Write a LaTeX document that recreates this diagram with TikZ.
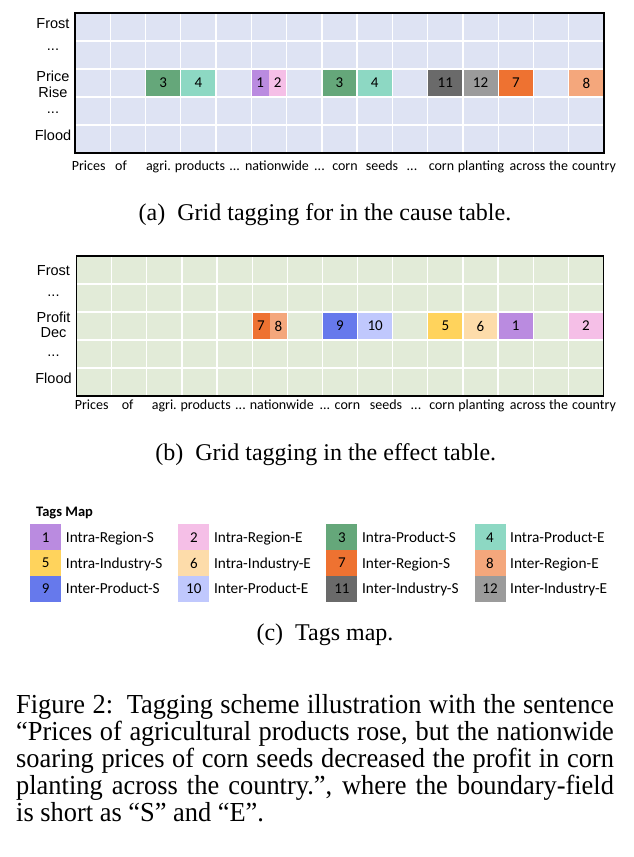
\documentclass[tikz,border=0pt]{standalone}
\usepackage{fontspec}
\setmainfont{Liberation Serif}
\newfontfamily\calibri{Carlito}
\newfontfamily\arial{Liberation Sans}
\newfontfamily\capfont[FakeStretch=0.96]{Liberation Serif}
\usepackage{xcolor}

\definecolor{causebg}{RGB}{222,227,243}
\definecolor{effectbg}{RGB}{226,235,216}
\definecolor{tag1}{HTML}{BA8BE0}
\definecolor{tag2}{HTML}{F5BFE7}
\definecolor{tag3}{HTML}{65A77A}
\definecolor{tag4}{HTML}{8DD8C3}
\definecolor{tag5}{HTML}{FFD35C}
\definecolor{tag6}{HTML}{FDDCAA}
\definecolor{tag7}{HTML}{EE7231}
\definecolor{tag8}{HTML}{F4A77C}
\definecolor{tag9}{HTML}{6679EC}
\definecolor{tag10}{HTML}{C0C8FD}
\definecolor{tag11}{HTML}{6A6A6A}
\definecolor{tag12}{HTML}{9B9B9B}
\newcommand\wdots{...}

\begin{document}
\begin{tikzpicture}[x=1pt,y=-1pt,
    gridline/.style={white,line width=1.3pt},
    frame/.style={black,line width=1.5pt},
    rowlabel/.style={font=\arial\fontsize{14.5}{16}\selectfont,anchor=base,inner sep=0pt},
    wordlabel/.style={font=\calibri\fontsize{14}{16}\selectfont,anchor=base,inner sep=0pt},
    tagnum/.style={font=\calibri\fontsize{15}{16}\selectfont,inner sep=0pt},
    legendtext/.style={font=\calibri\fontsize{15.3}{17}\selectfont,anchor=base west,inner sep=0pt},
    subcap/.style={font=\fontsize{24}{27}\selectfont,anchor=base,inner sep=0pt},
    figcap/.style={font=\capfont\fontsize{27.5}{27}\selectfont,anchor=north west,inner sep=0pt,
      text width=597.7pt,align=justify}]
    \useasboundingbox[fill=white] (0,0) rectangle (633,857);

    % (a) cause table
    \fill[causebg] (75,13) rectangle (604,153);
    \foreach \c/\s/\e/\t [count=\i] in {3/0/1/3,4/0/1/4,6/0/0.5/1,6/0.5/1/2,8/0/1/3,9/0/1/4,11/0/1/11,12/0/1/12,13/0/1/7,15/0/1/8}{
        \pgfmathsetmacro\xl{75+(\c-1+\s)*35.267}
        \pgfmathsetmacro\xr{75+(\c-1+\e)*35.267}
        \fill[fill=tag\t] (\xl,69) rectangle (\xr,97);
        \node[tagnum] (ctag\i) at ({(\xl+\xr)/2},83) {\t};
    }
    \foreach \i in {1,...,14} \draw[gridline] ({75+\i*35.267},13) -- ({75+\i*35.267},153);
    \foreach \j in {1,...,4} \draw[gridline] (75,{13+\j*28}) -- (604,{13+\j*28});
    \draw[frame] (75,13) rectangle (604,153);
    \node[rowlabel] (crow1) at (53,28.5) {Frost};
    \node[rowlabel] (crow2) at (53,50) {\wdots};
    \node[rowlabel] (crow3) at (53,81.5) {Price};
    \node[rowlabel] (crow4) at (53,97.5) {Rise};
    \node[rowlabel] (crow5) at (53,113.5) {\wdots};
    \node[rowlabel] (crow6) at (53,140) {Flood};
    \foreach \x/\w [count=\i] in {88.7/Prices,121/of,158.5/agri.,200/products,234.6/\wdots,277/nationwide,319.5/\wdots,345/corn,382/seeds,412/\wdots,441.5/corn,481/planting,527.5/across,558.5/the,594/country}
        \node[wordlabel] (cword\i) at (\x,170.5) {\w};
    \node[subcap] (capa) at (325,220) {(a)\enspace Grid tagging for in the cause table.};

    % (b) effect table
    \fill[effectbg] (76.5,256) rectangle (603.5,396);
    \foreach \c/\s/\e/\t [count=\i] in {6/0/0.5/7,6/0.5/1/8,8/0/1/9,9/0/1/10,11/0/1/5,12/0/1/6,13/0/1/1,15/0/1/2}{
        \pgfmathsetmacro\xl{76.5+(\c-1+\s)*35.133}
        \pgfmathsetmacro\xr{76.5+(\c-1+\e)*35.133}
        \fill[fill=tag\t] (\xl,312) rectangle (\xr,340);
        \node[tagnum] (etag\i) at ({(\xl+\xr)/2},326) {\t};
    }
    \foreach \i in {1,...,14} \draw[gridline] ({76.5+\i*35.133},256) -- ({76.5+\i*35.133},396);
    \foreach \j in {1,...,4} \draw[gridline] (76.5,{256+\j*28}) -- (603.5,{256+\j*28});
    \draw[frame] (76.5,256) rectangle (603.5,396);
    \node[rowlabel] (erow1) at (53.5,275) {Frost};
    \node[rowlabel] (erow2) at (53.5,296) {\wdots};
    \node[rowlabel] (erow3) at (53.5,322.7) {Profit};
    \node[rowlabel] (erow4) at (53.5,337) {Dec};
    \node[rowlabel] (erow5) at (53.5,356) {\wdots};
    \node[rowlabel] (erow6) at (53.5,383.5) {Flood};
    \foreach \x/\w [count=\i] in {91.7/Prices,127.6/of,164.3/agri.,205.7/products,240.5/\wdots,281.8/nationwide,324.8/\wdots,347.4/corn,386/seeds,416/\wdots,442/corn,481.4/planting,527.7/across,558.5/the,594/country}
        \node[wordlabel] (eword\i) at (\x,409.5) {\w};
    \node[subcap] (capb) at (325.8,460) {(b)\enspace Grid tagging in the effect table.};

    % (c) tags map
    \node[font=\calibri\bfseries\fontsize{14.5}{16}\selectfont,anchor=base west,inner sep=0pt] (maptitle) at (36,516) {Tags Map};
    \foreach \n/\lab [count=\i from 0] in {1/Intra-Region-S,2/Intra-Region-E,3/Intra-Product-S,4/Intra-Product-E,
        5/Intra-Industry-S,6/Intra-Industry-E,7/Inter-Region-S,8/Inter-Region-E,
        9/Inter-Product-S,10/Inter-Product-E,11/Inter-Industry-S,12/Inter-Industry-E}{
        \pgfmathtruncatemacro\row{\i/4}
        \pgfmathtruncatemacro\col{mod(\i,4)}
        \pgfmathsetmacro\bx{30.2+\col*148.1}
        \pgfmathsetmacro\by{524.3+\row*25.8}
        \fill[fill=tag\n] (\bx,\by) rectangle ({\bx+31},{\by+25.8});
        \node[tagnum] (key\n) at ({\bx+15.5},{\by+12.9}) {\n};
        \node[legendtext] (keylab\n) at ({\bx+35.5},{\by+18}) {\lab};
    }
    \node[subcap] (capc) at (325,640.5) {(c)\enspace Tags map.};

    \node[figcap] (figcap) at (16,694) {Figure~2:\enspace Tagging scheme illustration with the sentence\linebreak
        “Prices of agricultural products rose, but the nationwide\linebreak
        soaring prices of corn seeds decreased the profit in corn\linebreak
        planting across the country.”, where the boundary-field\linebreak
        is short as “S” and “E”.};
\end{tikzpicture}
\end{document}
